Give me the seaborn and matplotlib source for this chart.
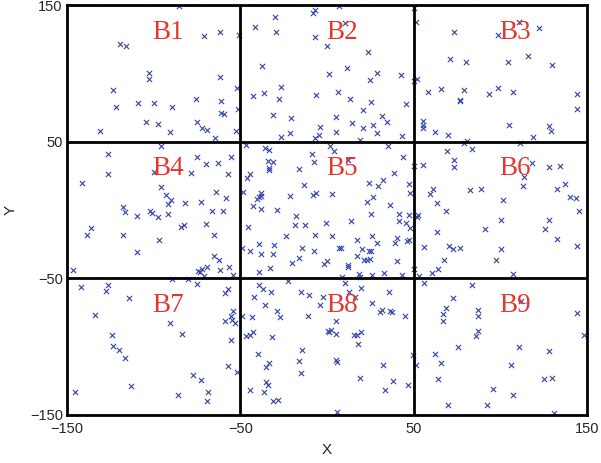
import numpy as np
import pandas as pd
import matplotlib
matplotlib.use("Agg")
import matplotlib.pyplot as plt
import seaborn as sns

# points, grouped by block
b1 = [(-85.6, 149.3), (-71.2, 127.3), (-61.6, 130.5), (-50.6, 128.0), (-119.7, 121.2), (-116.1, 120.2),
      (-102.6, 100.5), (-102.6, 95.6), (-61.6, 97.6), (-123.2, 87.8), (-51.9, 89.0), (-75.4, 81.0),
      (-61.0, 80.0), (-121.9, 75.6), (-109.3, 78.0), (-99.7, 78.0), (-89.3, 75.6), (-61.3, 71.0),
      (-59.5, 70.2), (-51.3, 73.7), (-130.9, 57.8), (-104.3, 64.1), (-97.6, 62.9), (-90.8, 57.1),
      (-75.0, 64.1), (-72.2, 60.2), (-69.3, 58.5), (-64.5, 52.9), (-52.5, 57.8)]
b2 = [(6.7, 149.5), (-6.7, 146.3), (-8.3, 143.9), (-29.8, 141.5), (-41.3, 134.1), (-29.2, 130.5),
      (10.6, 137.1), (-6.7, 126.3), (0.0, 120.2), (23.7, 115.9), (50.2, 147.6), (51.5, 137.8),
      (-37.5, 105.4), (1.3, 99.3), (11.7, 103.7), (28.8, 100.5), (24.8, 95.1), (42.7, 98.5),
      (50.2, 94.4), (51.8, 95.6), (-42.9, 83.4), (-36.5, 85.4), (-26.3, 89.8), (-27.9, 81.0),
      (-6.3, 84.4), (6.2, 86.6), (13.1, 81.0), (25.4, 79.3), (45.6, 77.3), (20.6, 73.2),
      (-31.2, 69.5), (-20.8, 67.6), (5.4, 67.8), (14.4, 63.9), (31.7, 68.8), (34.6, 64.1),
      (26.7, 62.2), (20.6, 59.8), (-4.2, 60.5), (5.4, 57.3), (-26.5, 53.7), (-21.5, 56.1),
      (-4.8, 54.9), (-6.7, 52.9), (28.8, 56.1), (43.3, 54.4), (19.2, 51.2)]
b3 = [(73.4, 130.0), (98.9, 128.0), (110.7, 137.8), (122.4, 133.4), (71.1, 110.5), (80.3, 108.0),
      (104.4, 108.0), (116.1, 112.9), (129.9, 106.1), (58.4, 86.1), (65.7, 88.5), (79.1, 87.8),
      (76.5, 80.2), (76.9, 79.8), (93.5, 84.9), (98.9, 89.5), (107.1, 86.1), (144.3, 84.9),
      (144.3, 73.7), (55.2, 65.4), (55.2, 62.2), (55.6, 60.2), (62.5, 56.8), (69.9, 54.9),
      (80.7, 50.7), (105.0, 62.2), (127.8, 61.7), (129.3, 58.0), (118.8, 53.2)]
b4 = [(-95.5, 46.5), (-126.2, 41.0), (-126.2, 26.3), (-141.5, 19.7), (-75.2, 39.1), (-70.0, 33.8),
      (-63.1, 34.3), (-55.6, 39.1), (-99.6, 27.5), (-78.5, 27.0), (-56.9, 26.3), (-95.8, 16.6),
      (-92.9, 11.3), (-90.0, 7.6), (-91.5, 4.5), (-64.0, 13.0), (-58.5, 8.8), (-81.9, 5.2),
      (-72.9, 6.2), (-117.9, 2.1), (-116.5, -1.6), (-109.4, -4.5), (-102.1, -0.8), (-101.2, -2.1),
      (-97.7, -5.2), (-91.5, -2.8), (-66.5, -1.1), (-60.2, -0.8), (-84.4, -12.2), (-82.5, -11.3),
      (-70.0, -10.5), (-65.2, -18.3), (-136.3, -13.0), (-138.7, -18.5), (-117.9, -18.3), (-96.9, -21.9),
      (-109.4, -31.1), (-49.2, -27.5), (-65.2, -33.5), (-62.3, -36.7), (-69.4, -41.5), (-56.3, -41.5),
      (-61.7, -43.7), (-74.2, -44.4), (-73.3, -45.6), (-72.3, -43.2), (-70.8, -48.0), (-54.4, -47.6),
      (-146.7, -43.7)]
b5 = [(-46.6, 47.6), (-36.0, 45.6), (-33.2, 43.9), (-34.1, 35.9), (-31.3, 35.2), (-33.2, 30.6),
      (-33.6, 29.4), (-44.6, 26.7), (-46.0, 23.1), (-48.5, 13.3), (1.8, 46.8), (4.1, 43.2),
      (-8.9, 40.8), (-7.7, 35.2), (-16.0, 29.9), (35.1, 46.8), (43.9, 38.8), (12.1, 36.7),
      (38.5, 27.4), (32.2, 22.1), (29.5, 17.7), (24.2, 19.4), (47.1, 18.9), (47.7, 12.4),
      (-13.1, 18.4), (-38.3, 12.4), (-39.5, 9.2), (-40.2, 8.0), (-38.0, 10.4), (-42.7, 2.7),
      (-38.0, 0.7), (-29.0, 0.2), (-21.3, 10.4), (-8.3, 11.2), (-6.4, 12.4), (2.6, 11.7),
      (26.7, 9.2), (23.2, 5.6), (36.2, 3.9), (25.1, -3.2), (41.8, -2.9), (41.8, -7.8),
      (47.1, -3.4), (-17.9, -4.1), (-18.5, -10.9), (-12.7, -10.9), (-0.7, -9.5), (13.7, -7.8),
      (45.8, -9.5), (48.1, -13.3), (-45.6, -12.6), (-23.6, -18.7), (-7.0, -18.0), (2.8, -18.7),
      (26.1, -18.7), (29.0, -24.3), (17.5, -22.3), (40.1, -20.6), (39.5, -24.3), (46.2, -23.0),
      (47.1, -21.8), (-39.5, -24.8), (-30.3, -25.5), (-44.3, -30.1), (-38.0, -32.0), (-31.3, -32.5),
      (-14.4, -27.7), (-7.7, -30.1), (7.0, -27.7), (8.3, -27.7), (20.4, -28.4), (24.2, -30.1),
      (25.5, -30.1), (17.1, -33.3), (21.3, -36.9), (22.8, -36.9), (24.8, -35.7), (-16.0, -34.9),
      (-20.2, -38.6), (-1.6, -39.3), (-0.1, -37.6), (12.3, -40.0), (12.3, -41.7), (40.4, -37.4),
      (-32.6, -42.5), (-39.3, -45.4), (18.5, -46.6), (19.0, -49.0), (26.1, -47.3), (32.8, -45.9),
      (43.3, -47.3), (8.9, -49.0), (50.0, -43.0)]
b6 = [(79.1, 48.8), (111.3, 48.8), (83.9, 44.4), (69.5, 43.4), (73.4, 36.7), (73.4, 31.1),
      (50.0, 32.3), (55.6, 33.0), (118.4, 34.7), (113.6, 24.5), (113.2, 17.2), (128.0, 31.1),
      (134.7, 32.3), (137.5, 19.2), (132.8, 15.5), (140.4, 9.5), (143.7, 8.7), (145.2, -1.0),
      (82.4, 14.8), (89.1, 15.5), (60.9, 15.5), (59.6, 11.9), (63.2, 5.1), (68.6, -1.0),
      (101.5, 7.0), (100.6, -7.0), (91.2, -13.8), (128.0, -7.0), (125.7, -13.8), (132.8, -21.1),
      (144.3, -26.0), (51.9, -5.3), (52.3, -3.8), (63.2, -16.0), (56.1, -26.9), (70.5, -26.5),
      (72.8, -28.9), (76.8, -27.7), (100.6, -28.9), (97.3, -36.9), (67.6, -36.9), (63.8, -43.0),
      (60.3, -45.9), (53.3, -48.3), (107.3, -47.1)]
b7 = [(-89.6, -50.2), (-80.0, -50.2), (-142.1, -56.3), (-126.2, -54.9), (-127.5, -59.2), (-114.2, -64.6),
      (-75.2, -53.9), (-58.8, -60.9), (-57.3, -58.0), (-133.8, -76.8), (-90.6, -82.8), (-83.8, -90.4),
      (-54.4, -73.8), (-55.6, -77.5), (-58.8, -81.1), (-55.0, -80.7), (-53.1, -82.8), (-49.2, -77.5),
      (-55.6, -95.0), (-124.2, -91.4), (-123.3, -99.4), (-119.8, -102.3), (-116.5, -108.4), (-56.9, -114.0),
      (-52.1, -118.4), (-77.1, -120.8), (-72.9, -124.5), (-113.1, -128.6), (-145.4, -133.5), (-86.2, -135.4),
      (-68.8, -133.5), (-69.4, -139.5)]
b8 = [(-22.7, -51.9), (-39.5, -54.9), (-37.0, -58.0), (-32.2, -60.0), (-42.2, -63.4), (-15.0, -60.0),
      (-10.2, -62.2), (-2.2, -63.4), (-4.1, -69.7), (10.2, -53.2), (12.7, -60.0), (16.0, -63.4),
      (19.4, -56.8), (35.7, -60.0), (26.1, -68.2), (-36.0, -69.7), (-29.0, -73.8), (-26.9, -78.2),
      (-43.3, -78.2), (-10.8, -77.5), (5.4, -81.1), (30.3, -75.0), (31.8, -73.4), (36.6, -73.8),
      (37.6, -74.3), (45.2, -77.5), (0.3, -88.4), (2.2, -88.0), (0.9, -89.2), (5.4, -90.9),
      (15.6, -91.4), (17.5, -91.6), (19.8, -89.2), (17.9, -97.7), (-46.9, -92.1), (-44.6, -91.4),
      (-42.7, -89.2), (-31.6, -93.3), (-14.4, -102.3), (-39.9, -105.5), (-16.0, -110.8), (-15.0, -119.3),
      (5.4, -109.6), (6.0, -111.1), (-33.2, -112.3), (-35.1, -115.2), (49.4, -106.2), (51.5, -113.5),
      (32.2, -113.3), (19.0, -123.0), (37.8, -124.9), (33.7, -131.8), (46.6, -128.1), (-35.1, -126.2),
      (-33.8, -128.1), (-44.6, -131.8), (-36.4, -133.5), (-31.3, -139.5), (-28.4, -139.1), (6.0, -148.1)]
b9 = [(56.1, -53.2), (83.9, -54.9), (72.8, -64.6), (68.6, -71.4), (66.7, -76.3), (67.2, -81.1),
      (87.2, -73.1), (87.2, -77.5), (87.2, -88.9), (85.8, -92.1), (144.3, -75.5), (148.1, -91.6),
      (75.3, -100.1), (110.7, -100.1), (128.0, -103.0), (62.5, -105.5), (65.7, -112.3), (106.3, -113.5),
      (63.8, -123.7), (125.1, -123.7), (129.9, -123.0), (96.0, -131.0), (107.3, -135.4), (69.9, -142.5),
      (92.5, -142.5), (131.2, -148.5), (111.7, -66.5)]

block_names = ["B1", "B2", "B3", "B4", "B5", "B6", "B7", "B8", "B9"]
block_points = [b1, b2, b3, b4, b5, b6, b7, b8, b9]
grid_lines = [-50, 50]
ticks = [-150, -50, 50, 150]

rows = []
for name, pts in zip(block_names, block_points):
    for px, py in pts:
        rows.append({"X": px, "Y": py, "block": name})
df = pd.DataFrame(rows)

sns.set_style("white")
plt.rcParams['font.family'] = ['Liberation Sans', 'DejaVu Sans']

fig = plt.figure(figsize=(6.01, 4.63), dpi=100)
ax = fig.add_axes([0.1115, 0.1037, 0.8652, 0.8855])

sns.scatterplot(data=df, x="X", y="Y", marker="x", color="#3343ab",
                s=14, linewidth=0.8, ax=ax, legend=False)

for g in grid_lines:
    ax.axvline(g, color="black", lw=2, zorder=3)
    ax.axhline(g, color="black", lw=2, zorder=3)
ax.axhline(149.0, color="#888888", lw=0.8, ls=":", zorder=2)

# block labels, centred slightly right of each cell centre, near the cell top
for i, name in enumerate(block_names):
    col, row = i % 3, i // 3
    cx = -150 + 100 * col + 58.5
    cy = 150 - 100 * row - 20
    ax.text(cx, cy, name, color="#e3382e", fontsize=19.5, ha="center", va="center",
            family=["Liberation Serif", "DejaVu Serif"], zorder=4)

ax.set_xlim(-150, 150)
ax.set_ylim(-150, 150)
ax.set_xticks(ticks)
ax.set_yticks(ticks)
ax.tick_params(length=0, labelsize=10.5)
ax.tick_params(axis="x", pad=5)
ax.tick_params(axis="y", pad=3)
for sp in ax.spines.values():
    sp.set_color("black")
    sp.set_linewidth(2)
ax.set_xlabel("X", fontsize=11, labelpad=5)
ax.set_ylabel("Y", fontsize=11, labelpad=9)

fig.savefig("out.png", dpi=100)
